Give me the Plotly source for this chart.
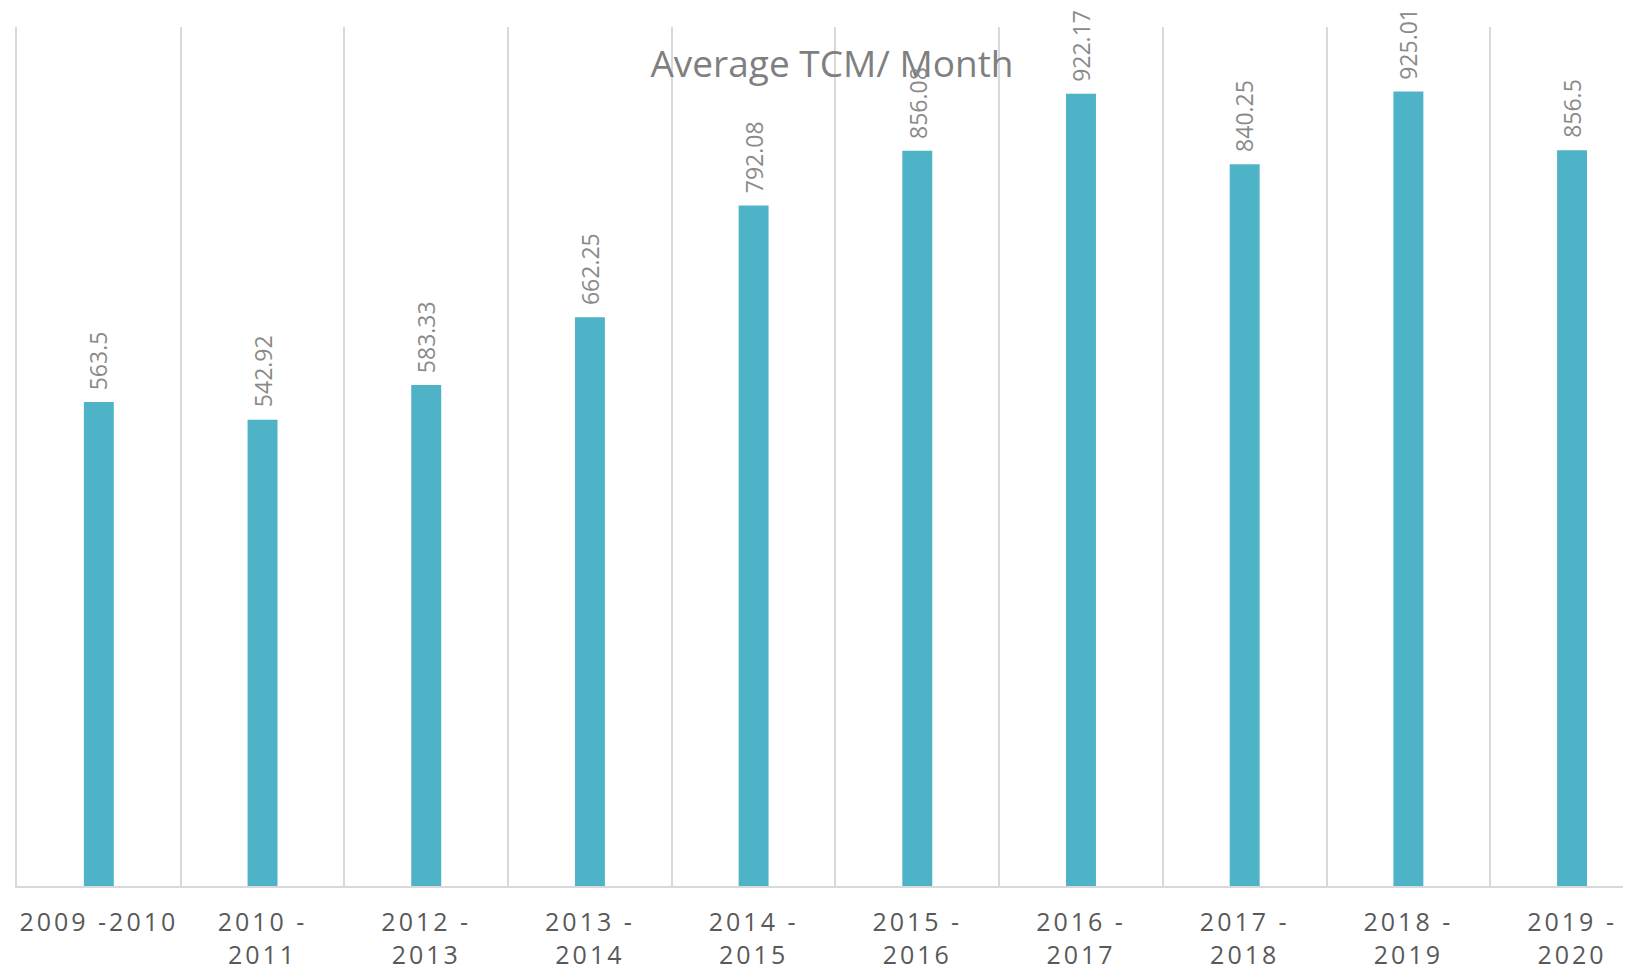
import plotly.graph_objects as go

periods = ["2009 -2010", "2010 - 2011", "2012 - 2013", "2013 - 2014", "2014 - 2015",
           "2015 - 2016", "2016 - 2017", "2017 - 2018", "2018 - 2019", "2019 - 2020"]
avg_tcm = [563.5, 542.92, 583.33, 662.25, 792.08, 856.08, 922.17, 840.25, 925.01, 856.5]

# excel wraps the long labels after the dash, and spaces the letters out a bit
tick_text = ['<span style="letter-spacing:3px">' + p.replace("- ", "-<br>") + '</span>'
             for p in periods]

fig = go.Figure()
fig.add_trace(go.Bar(x=periods, y=avg_tcm, marker=dict(color="#4fb3c8", line=dict(width=0)),
                     hoverinfo="x+y", showlegend=False))

for p, v in zip(periods, avg_tcm):
    fig.add_annotation(x=p, y=v, text=str(v), textangle=-90, showarrow=False,
                       xanchor="center", yanchor="bottom", yshift=11, borderpad=0,
                       font=dict(family="Open Sans", size=23, color="#8a8a8a"))

# page body has an 8px margin, so the figure is 8px smaller than the window
fig.update_layout(
    width=1623, height=965,
    margin=dict(l=9, r=0, t=19, b=87, autoexpand=False),
    paper_bgcolor="white", plot_bgcolor="white",
    bargap=0.817,
    title=dict(text="Average TCM/ Month", x=0.5077, xanchor="center", xref="container",
               y=1 - 56 / 965, yref="container", yanchor="middle",
               font=dict(family="Open Sans", size=37, color="#7f7f7f")),
    font=dict(family="Open Sans"),
)
fig.update_xaxes(type="category", tickson="boundaries", showgrid=True, gridcolor="#d9d9d9",
                 gridwidth=1.5, showline=True, linecolor="#d9d9d9", linewidth=2,
                 ticks="", tickvals=periods, ticktext=tick_text, tickangle=0,
                 automargin=False, range=[-0.5, 9.36], ticklabelstandoff=13,
                 tickfont=dict(family="Open Sans", size=25, color="#595959"))
fig.update_yaxes(range=[0, 1000], showgrid=False, showticklabels=False, zeroline=False,
                 showline=True, linecolor="#d9d9d9", linewidth=1.5)

fig.write_html("out.html")
